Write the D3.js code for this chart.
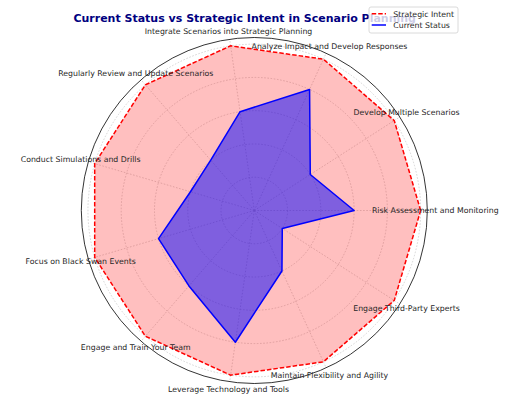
<!DOCTYPE html>
<html>
<head>
  <meta charset="utf-8">
  <title>Radar Chart</title>
  <style>
  body { margin: 0; background: #fff; }
  svg { display: block; font-family: "DejaVu Sans", sans-serif; }
  .grid { fill: none; stroke: #c4c4c4; stroke-width: 0.7px; stroke-dasharray: 1.6,1.6; }
  .cat-label { fill: #262626; font-size: 7.8px; text-anchor: middle; }
  .legend-label { fill: #262626; font-size: 7.8px; }
  </style>
</head>
<body>
  <div id="chart"></div>
  <script src="https://cdn.jsdelivr.net/npm/d3@7"></script>
  <script>
  //chart data
  var categories = [
    "Risk Assessment and Monitoring",
    "Develop Multiple Scenarios",
    "Analyze Impact and Develop Responses",
    "Integrate Scenarios into Strategic Planning",
    "Regularly Review and Update Scenarios",
    "Conduct Simulations and Drills",
    "Focus on Black Swan Events",
    "Engage and Train Your Team",
    "Leverage Technology and Tools",
    "Maintain Flexibility and Agility",
    "Engage Third-Party Experts"
  ];
  var currentStatus = [3, 2, 4, 3, 2, 2, 3, 3, 4, 2, 1];
  var strategicIntent = [5, 5, 5, 5, 5, 5, 5, 5, 5, 5, 5];
  var rTicks = [1, 2, 3, 4, 5];
  var seriesNames = ["Strategic Intent", "Current Status"];

  //dimensions
  var width = 512, height = 397;
  var cx = 254.3, cy = 210.5, outerR = 173;

  var svg = d3.select("#chart")
    .append("svg")
    .attr("width", width)
    .attr("height", height);

  var g = svg.append("g")
    .attr("transform", "translate(" + cx + "," + cy + ")");

  //scales: radius for values, angle for category index (counter-clockwise from east)
  var r = d3.scaleLinear().domain([0, 5.2]).range([0, outerR]);
  var theta = d3.scaleLinear().domain([0, categories.length]).range([0, 2 * Math.PI]);
  //d3 radial angle is measured clockwise from north
  function radialAngle(i) { return Math.PI / 2 - theta(i); }

  //grid circles
  g.selectAll(".ring")
    .data(rTicks)
    .enter().append("circle")
    .attr("class", "grid ring")
    .attr("r", function(d) { return r(d); });

  //spokes
  g.selectAll(".spoke")
    .data(categories)
    .enter().append("line")
    .attr("class", "grid spoke")
    .attr("x1", 0).attr("y1", 0)
    .attr("x2", function(d, i) { return outerR * Math.cos(theta(i)); })
    .attr("y2", function(d, i) { return -outerR * Math.sin(theta(i)); });

  var radarLine = d3.lineRadial()
    .angle(function(d, i) { return radialAngle(i); })
    .radius(function(d) { return r(d); })
    .curve(d3.curveLinearClosed);

  //strategic intent
  g.append("path")
    .datum(strategicIntent)
    .attr("d", radarLine)
    .attr("fill", "rgba(255,0,0,0.25)")
    .attr("stroke", "red")
    .attr("stroke-width", 1.5)
    .attr("stroke-dasharray", "4.5,2");

  //current status
  g.append("path")
    .datum(currentStatus)
    .attr("d", radarLine)
    .attr("fill", "rgba(0,0,255,0.5)")
    .attr("stroke", "blue")
    .attr("stroke-width", 1.5)
    .attr("stroke-linejoin", "round");

  //outer frame
  g.append("circle")
    .attr("r", outerR)
    .attr("fill", "none")
    .attr("stroke", "#000")
    .attr("stroke-width", 0.8);

  //category labels
  g.selectAll(".cat-label")
    .data(categories)
    .enter().append("text")
    .attr("class", "cat-label")
    .attr("x", function(d, i) { return (outerR + 8) * Math.cos(theta(i)); })
    .attr("y", function(d, i) { return -(outerR + 8) * Math.sin(theta(i)); })
    .attr("dy", "0.35em")
    .text(function(d) { return d; });

  //title
  svg.append("text")
    .attr("x", 244.7)
    .attr("y", 22.3)
    .attr("text-anchor", "middle")
    .attr("font-size", "11px")
    .attr("font-weight", "bold")
    .attr("fill", "#000080")
    .text("Current Status vs Strategic Intent in Scenario Planning");

  //legend (semi-transparent, overlaps the title)
  var legend = svg.append("g").attr("transform", "translate(369,7)");
  legend.append("rect")
    .attr("width", 89).attr("height", 26)
    .attr("rx", 2)
    .attr("fill", "rgba(255,255,255,0.8)")
    .attr("stroke", "#d0d0d0")
    .attr("stroke-width", 0.8);

  var legendStyles = [
    { color: "red", dash: "4.5,2" },
    { color: "blue", dash: null }
  ];
  var items = legend.selectAll(".item")
    .data(seriesNames)
    .enter().append("g")
    .attr("transform", function(d, i) { return "translate(0," + (6.7 + i * 11.3) + ")"; });
  items.append("line")
    .attr("x1", 2.7).attr("x2", 17)
    .attr("stroke", function(d, i) { return legendStyles[i].color; })
    .attr("stroke-width", 1.5)
    .attr("stroke-dasharray", function(d, i) { return legendStyles[i].dash; });
  items.append("text")
    .attr("class", "legend-label")
    .attr("x", 24.3)
    .attr("y", 2.9)
    .text(function(d) { return d; });
  </script>
</body>
</html>
